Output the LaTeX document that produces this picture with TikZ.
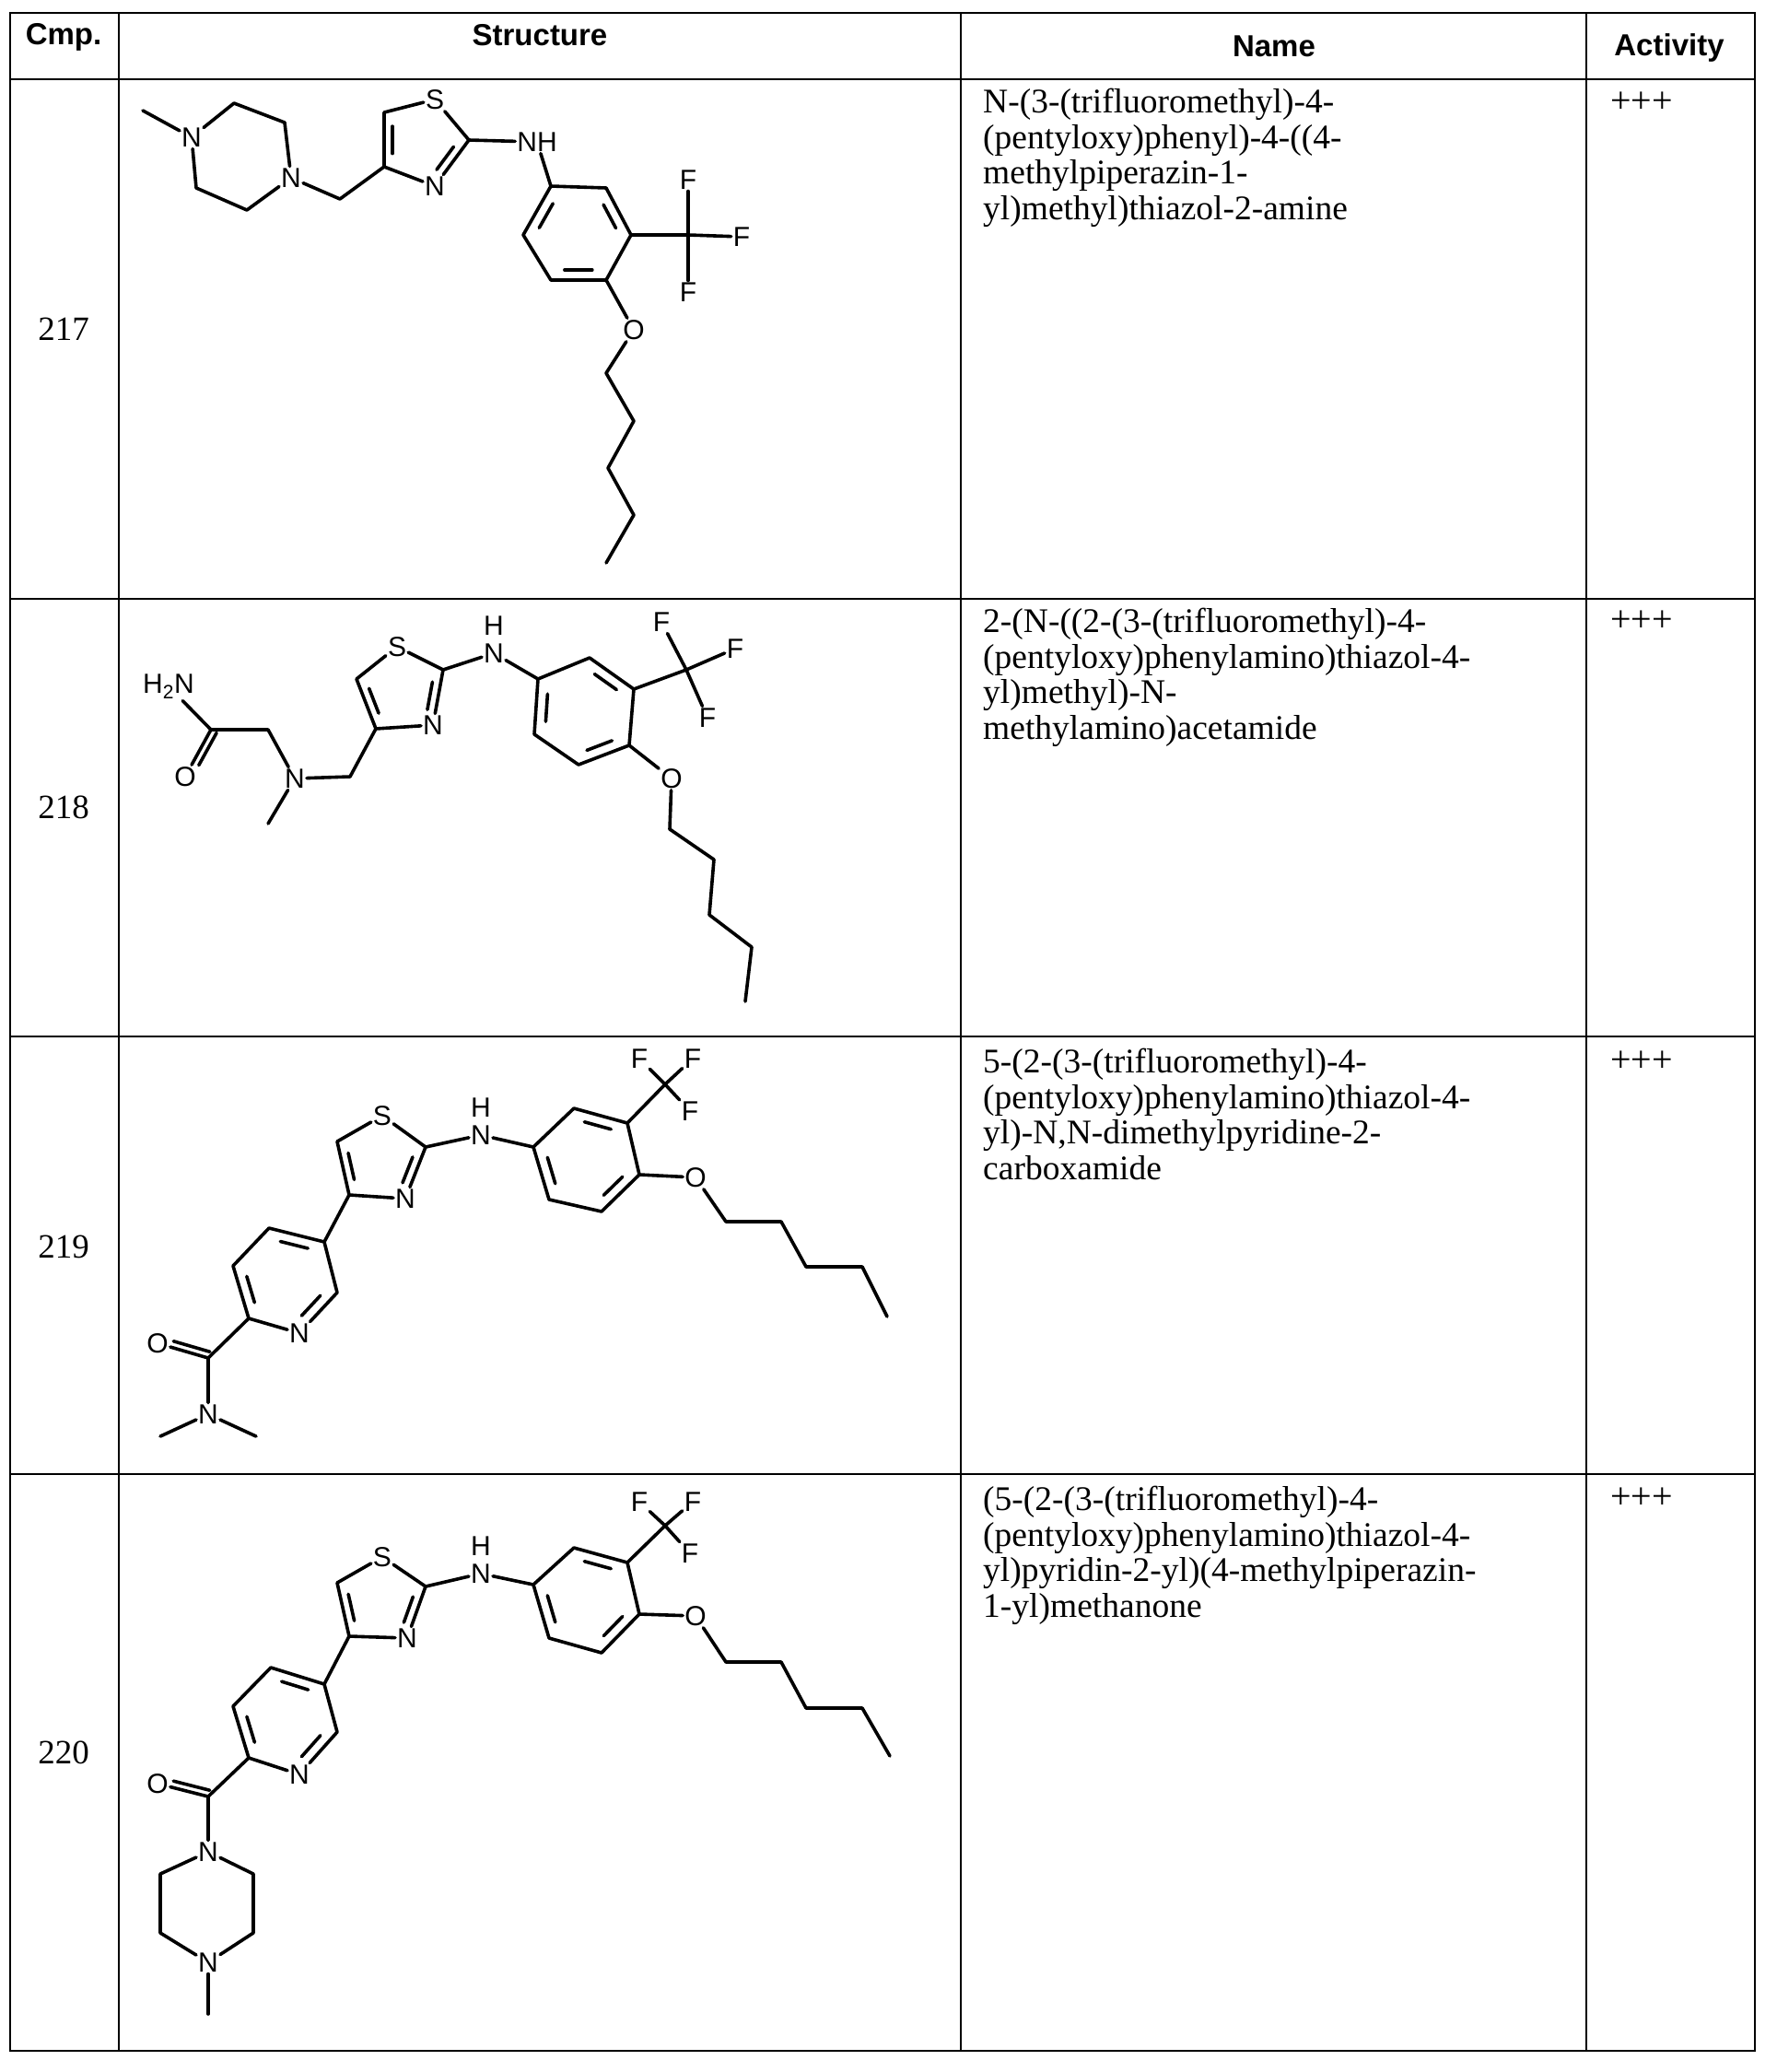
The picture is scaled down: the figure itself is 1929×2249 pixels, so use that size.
\documentclass[tikz,border=0pt]{standalone}
\usepackage{fontspec}
\setmainfont{Liberation Serif}
\newfontfamily\atomf{Liberation Sans}
\newfontfamily\headf{Liberation Sans}
\usetikzlibrary{calc}
\tikzset{
  bond/.style={line width=3.6pt, line cap=round, line join=round},
  atom/.style={font=\atomf\fontsize{30}{32}\selectfont, inner sep=2pt},
  grid/.style={line width=2.8pt},
  head/.style={font=\headf\bfseries\fontsize{33}{36}\selectfont},
  numtxt/.style={font=\fontsize{37}{40}\selectfont},
  nametxt/.style={font=\fontsize{37.5}{38.6}\selectfont, align=left, anchor=north west, inner sep=0pt},
}
\newcommand\dbin[3]{%
  \coordinate (tmpA) at ($(#1)!0.18!(#2)$);
  \coordinate (tmpB) at ($(#2)!0.18!(#1)$);
  \draw[bond] ($(tmpA)!0.22!(#3)$) -- ($(tmpB)!0.22!(#3)$);}
\begin{document}
\begin{tikzpicture}[x=1pt,y=-1pt]
\useasboundingbox (0,0) rectangle (1929,2249);
% table
\draw[grid] (11,14) rectangle (1905,2226);
\foreach \yy in {86,650,1125,1600} \draw[grid] (11,\yy) -- (1905,\yy);
\foreach \xx in {129,1043,1722} \draw[grid] (\xx,14) -- (\xx,2226);
\node[head] (h1) at (69,40) {Cmp.};
\node[head] (h2) at (586,38) {Structure};
\node[head] (h3) at (1383,50) {Name};
\node[head] (h4) at (1812,52) {Activity};
\node[numtxt] (n1) at (69,357) {217};
\node[numtxt] (n2) at (69,876) {218};
\node[numtxt] (n3) at (69,1353) {219};
\node[numtxt] (n4) at (69,1902) {220};
\node[nametxt] (t1) at (1067,96) {N-(3-(trifluoromethyl)-4-\\(pentyloxy)phenyl)-4-((4-\\methylpiperazin-1-\\yl)methyl)thiazol-2-amine};
\node[nametxt] (t2) at (1067,660) {2-(N-((2-(3-(trifluoromethyl)-4-\\(pentyloxy)phenylamino)thiazol-4-\\yl)methyl)-N-\\methylamino)acetamide};
\node[nametxt] (t3) at (1067,1138) {5-(2-(3-(trifluoromethyl)-4-\\(pentyloxy)phenylamino)thiazol-4-\\yl)-N,N-dimethylpyridine-2-\\carboxamide};
\node[nametxt] (t4) at (1067,1613) {(5-(2-(3-(trifluoromethyl)-4-\\(pentyloxy)phenylamino)thiazol-4-\\yl)pyridin-2-yl)(4-methylpiperazin-\\1-yl)methanone};
\foreach \yy/\nm in {111/a1,674/a2,1152/a3,1626/a4}
  \node[font=\fontsize{40}{40}\selectfont, anchor=west, inner sep=0pt] (\nm) at (1748,\yy) {+++};

% ===== 217 =====
\coordinate (aMe) at (155,120);
\node[atom] (aN1) at (208,149) {N};
\coordinate (aCa) at (254,112);
\coordinate (aCb) at (309,133);
\node[atom] (aN2) at (316,193) {N};
\coordinate (aCc) at (268,228);
\coordinate (aCd) at (213,204);
\coordinate (aCH) at (369,216);
\coordinate (aT4) at (417,181);
\coordinate (aT5) at (417,122);
\node[atom] (aS) at (472,108) {S};
\coordinate (aT2) at (509,152);
\node[atom] (aN3) at (472,202) {N};
\node[atom] (aNH) at (583,154) {NH};
\coordinate (aB1) at (598,202);
\coordinate (aB2) at (658,204);
\coordinate (aB3) at (685,255);
\coordinate (aB4) at (658,304);
\coordinate (aB5) at (598,304);
\coordinate (aB6) at (568,255);
\coordinate (aCF) at (747,255);
\node[atom] (aF1) at (747,195) {F};
\node[atom] (aF2) at (805,257) {F};
\node[atom] (aF3) at (747,317) {F};
\node[atom] (aO) at (688,358) {O};
\coordinate (ac1) at (658,405);
\coordinate (ac2) at (688,457);
\coordinate (ac3) at (660,508);
\coordinate (ac4) at (688,559);
\coordinate (ac5) at (658,611);
\draw[bond] (aMe) -- (aN1) -- (aCa) -- (aCb) -- (aN2) -- (aCc) -- (aCd) -- (aN1);
\draw[bond] (aN2) -- (aCH) -- (aT4) -- (aT5) -- (aS) -- (aT2) -- (aN3) -- (aT4);
\draw[bond] (aT2) -- (aNH) -- (aB1) -- (aB2) -- (aB3) -- (aB4) -- (aB5) -- (aB6) -- (aB1);
\draw[bond] (aB3) -- (aCF); \draw[bond] (aCF) -- (aF1); \draw[bond] (aCF) -- (aF2); \draw[bond] (aCF) -- (aF3);
\draw[bond] (aB4) -- (aO) -- (ac1) -- (ac2) -- (ac3) -- (ac4) -- (ac5);
\coordinate (aTc) at (barycentric cs:aT4=1,aT5=1,aS=1,aT2=1,aN3=1);
\coordinate (aBc) at (barycentric cs:aB1=1,aB2=1,aB3=1,aB4=1,aB5=1,aB6=1);
\dbin{aT4}{aT5}{aTc} \dbin{aT2}{aN3}{aTc}
\dbin{aB1}{aB6}{aBc} \dbin{aB2}{aB3}{aBc} \dbin{aB4}{aB5}{aBc}

% ===== 218 =====
\node[atom] (bNH2) at (183,745) {H\textsubscript{2}N};
\coordinate (bCa) at (229,792);
\node[atom] (bO) at (201,843) {O};
\coordinate (bCH) at (291,792);
\node[atom] (bN) at (320,845) {N};
\coordinate (bMe) at (291,894);
\coordinate (bCH2) at (380,843);
\coordinate (bT4) at (408,791);
\coordinate (bT5) at (387,737);
\node[atom] (bS) at (431,702) {S};
\coordinate (bT2) at (481,727);
\node[atom] (bN3) at (470,787) {N};
\node[atom] (bNH) at (536,709) {N};
\node[atom] (bH) at (536,679) {H};
\coordinate (bB1) at (584,737);
\coordinate (bB2) at (640,714);
\coordinate (bB3) at (688,748);
\coordinate (bB4) at (683,809);
\coordinate (bB5) at (628,830);
\coordinate (bB6) at (580,797);
\coordinate (bCF) at (745,727);
\node[atom] (bF1) at (718,675) {F};
\node[atom] (bF2) at (798,704) {F};
\node[atom] (bF3) at (768,779) {F};
\node[atom] (bO2) at (729,845) {O};
\coordinate (bc1) at (727,900);
\coordinate (bc2) at (775,933);
\coordinate (bc3) at (770,993);
\coordinate (bc4) at (816,1028);
\coordinate (bc5) at (809,1087);
\draw[bond] (bNH2) -- (bCa) -- (bCH) -- (bN) -- (bMe);
\draw[bond] (bCa) -- (bO);
\draw[bond, shorten >=2pt] ($(bCa)!7pt!90:(bO)$) -- ($(bO.center)!16pt!(bCa)!7pt!-90:(bCa)$);
\draw[bond] (bN) -- (bCH2) -- (bT4) -- (bT5) -- (bS) -- (bT2) -- (bN3) -- (bT4);
\draw[bond] (bT2) -- (bNH) -- (bB1) -- (bB2) -- (bB3) -- (bB4) -- (bB5) -- (bB6) -- (bB1);
\draw[bond] (bB3) -- (bCF); \draw[bond] (bCF) -- (bF1); \draw[bond] (bCF) -- (bF2); \draw[bond] (bCF) -- (bF3);
\draw[bond] (bB4) -- (bO2) -- (bc1) -- (bc2) -- (bc3) -- (bc4) -- (bc5);
\coordinate (bTc) at (barycentric cs:bT4=1,bT5=1,bS=1,bT2=1,bN3=1);
\coordinate (bBc) at (barycentric cs:bB1=1,bB2=1,bB3=1,bB4=1,bB5=1,bB6=1);
\dbin{bT4}{bT5}{bTc} \dbin{bT2}{bN3}{bTc}
\dbin{bB1}{bB6}{bBc} \dbin{bB2}{bB3}{bBc} \dbin{bB4}{bB5}{bBc}

% ===== 219 =====
\node[atom] (cS) at (415,1211) {S};
\coordinate (cT5) at (366,1239);
\coordinate (cT4) at (379,1297);
\node[atom] (cN3) at (440,1301) {N};
\coordinate (cT2) at (462,1245);
\node[atom] (cNH) at (522,1232) {N};
\node[atom] (cH) at (522,1202) {H};
\coordinate (cB1) at (579,1245);
\coordinate (cB2) at (623,1203);
\coordinate (cB3) at (681,1219);
\coordinate (cB4) at (694,1275);
\coordinate (cB5) at (653,1315);
\coordinate (cB6) at (596,1302);
\coordinate (cCF) at (722,1177);
\node[atom] (cF1) at (694,1149) {F};
\node[atom] (cF2) at (752,1149) {F};
\node[atom] (cF3) at (749,1206) {F};
\node[atom] (cO) at (755,1278) {O};
\coordinate (cc1) at (788,1326);
\coordinate (cc2) at (848,1326);
\coordinate (cc3) at (875,1375);
\coordinate (cc4) at (936,1375);
\coordinate (cc5) at (963,1429);
\coordinate (cP3) at (352,1348);
\coordinate (cP4) at (292,1333);
\coordinate (cP5) at (253,1374);
\coordinate (cP6) at (270,1431);
\node[atom] (cPN) at (325,1447) {N};
\coordinate (cP2) at (366,1403);
\coordinate (cAC) at (226,1474);
\node[atom] (cAO) at (171,1458) {O};
\node[atom] (cAN) at (226,1535) {N};
\coordinate (cM1) at (174,1559);
\coordinate (cM2) at (278,1559);
\draw[bond] (cT4) -- (cT5) -- (cS) -- (cT2) -- (cN3) -- (cT4);
\draw[bond] (cT2) -- (cNH) -- (cB1) -- (cB2) -- (cB3) -- (cB4) -- (cB5) -- (cB6) -- (cB1);
\draw[bond] (cB3) -- (cCF); \draw[bond] (cCF) -- (cF1); \draw[bond] (cCF) -- (cF2); \draw[bond] (cCF) -- (cF3);
\draw[bond] (cB4) -- (cO) -- (cc1) -- (cc2) -- (cc3) -- (cc4) -- (cc5);
\draw[bond] (cT4) -- (cP3) -- (cP4) -- (cP5) -- (cP6) -- (cPN) -- (cP2) -- (cP3);
\draw[bond] (cP6) -- (cAC) -- (cAN); \draw[bond] (cAC) -- (cAO);
\draw[bond] (cAN) -- (cM1); \draw[bond] (cAN) -- (cM2);
\coordinate (cTc) at (barycentric cs:cT4=1,cT5=1,cS=1,cT2=1,cN3=1);
\coordinate (cBc) at (barycentric cs:cB1=1,cB2=1,cB3=1,cB4=1,cB5=1,cB6=1);
\coordinate (cPc) at (barycentric cs:cP2=1,cP3=1,cP4=1,cP5=1,cP6=1,cPN=1);
\dbin{cT4}{cT5}{cTc} \dbin{cT2}{cN3}{cTc}
\dbin{cB1}{cB6}{cBc} \dbin{cB2}{cB3}{cBc} \dbin{cB4}{cB5}{cBc}
\dbin{cP3}{cP4}{cPc} \dbin{cP5}{cP6}{cPc} \dbin{cPN}{cP2}{cPc}
\draw[bond] ($(cAC)!7pt!-90:(cAO)$) -- ($(cAO.center)!16pt!(cAC)!7pt!90:(cAC)$);

% ===== 220 =====
\node[atom] (dS) at (415,1690) {S};
\coordinate (dT5) at (366,1718);
\coordinate (dT4) at (379,1776);
\node[atom] (dN3) at (442,1778) {N};
\coordinate (dT2) at (462,1722);
\node[atom] (dNH) at (522,1708) {N};
\node[atom] (dH) at (522,1678) {H};
\coordinate (dB1) at (579,1720);
\coordinate (dB2) at (623,1680);
\coordinate (dB3) at (681,1696);
\coordinate (dB4) at (694,1752);
\coordinate (dB5) at (653,1794);
\coordinate (dB6) at (596,1778);
\coordinate (dCF) at (722,1656);
\node[atom] (dF1) at (694,1630) {F};
\node[atom] (dF2) at (752,1630) {F};
\node[atom] (dF3) at (749,1686) {F};
\node[atom] (dO) at (755,1754) {O};
\coordinate (dc1) at (788,1804);
\coordinate (dc2) at (848,1804);
\coordinate (dc3) at (875,1854);
\coordinate (dc4) at (936,1854);
\coordinate (dc5) at (966,1906);
\coordinate (dP3) at (352,1828);
\coordinate (dP4) at (294,1810);
\coordinate (dP5) at (253,1852);
\coordinate (dP6) at (270,1908);
\node[atom] (dPN) at (325,1926) {N};
\coordinate (dP2) at (366,1880);
\coordinate (dAC) at (226,1950);
\node[atom] (dAO) at (171,1936) {O};
\node[atom] (dAN) at (226,2010) {N};
\coordinate (dQ1) at (275,2034);
\coordinate (dQ2) at (275,2098);
\node[atom] (dN4) at (226,2130) {N};
\coordinate (dQ3) at (174,2098);
\coordinate (dQ4) at (174,2034);
\coordinate (dMe) at (226,2186);
\draw[bond] (dT4) -- (dT5) -- (dS) -- (dT2) -- (dN3) -- (dT4);
\draw[bond] (dT2) -- (dNH) -- (dB1) -- (dB2) -- (dB3) -- (dB4) -- (dB5) -- (dB6) -- (dB1);
\draw[bond] (dB3) -- (dCF); \draw[bond] (dCF) -- (dF1); \draw[bond] (dCF) -- (dF2); \draw[bond] (dCF) -- (dF3);
\draw[bond] (dB4) -- (dO) -- (dc1) -- (dc2) -- (dc3) -- (dc4) -- (dc5);
\draw[bond] (dT4) -- (dP3) -- (dP4) -- (dP5) -- (dP6) -- (dPN) -- (dP2) -- (dP3);
\draw[bond] (dP6) -- (dAC) -- (dAN); \draw[bond] (dAC) -- (dAO);
\draw[bond] (dAN) -- (dQ1) -- (dQ2) -- (dN4) -- (dQ3) -- (dQ4) -- (dAN);
\draw[bond] (dN4) -- (dMe);
\coordinate (dTc) at (barycentric cs:dT4=1,dT5=1,dS=1,dT2=1,dN3=1);
\coordinate (dBc) at (barycentric cs:dB1=1,dB2=1,dB3=1,dB4=1,dB5=1,dB6=1);
\coordinate (dPc) at (barycentric cs:dP2=1,dP3=1,dP4=1,dP5=1,dP6=1,dPN=1);
\dbin{dT4}{dT5}{dTc} \dbin{dT2}{dN3}{dTc}
\dbin{dB1}{dB6}{dBc} \dbin{dB2}{dB3}{dBc} \dbin{dB4}{dB5}{dBc}
\dbin{dP3}{dP4}{dPc} \dbin{dP5}{dP6}{dPc} \dbin{dPN}{dP2}{dPc}
\draw[bond] ($(dAC)!7pt!-90:(dAO)$) -- ($(dAO.center)!16pt!(dAC)!7pt!90:(dAC)$);
\end{tikzpicture}
\end{document}
